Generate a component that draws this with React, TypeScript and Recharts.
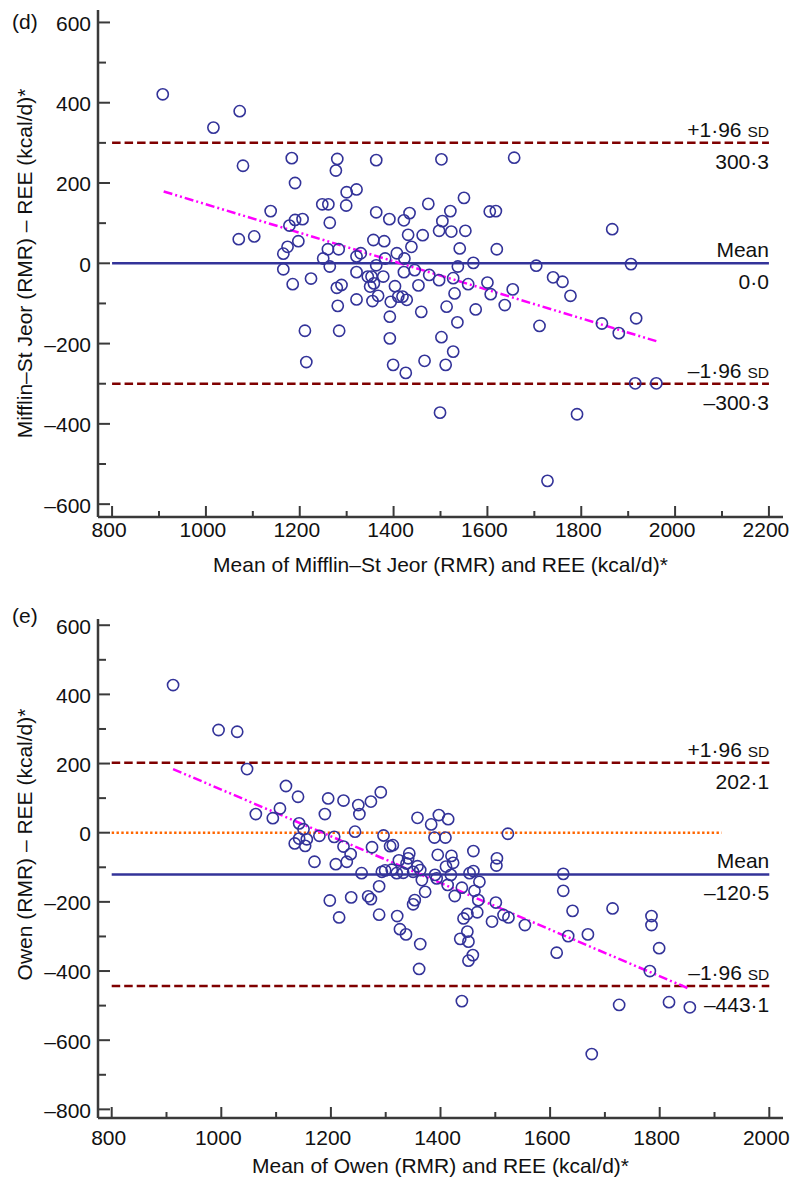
import React from "react";
import { ScatterChart, Scatter, XAxis, YAxis, ReferenceLine } from "recharts";

const FONT = '"Liberation Sans", Arial, Helvetica, sans-serif';
const FS = 21;
const AXIS = "#3a3a3a";
const INK = "#111";
const NAVY = "#333399";
const DARKRED = "#7f0000";
const MAGENTA = "#ff00ff";
const ORANGE = "#ff6600";

// (d) Mifflin–St Jeor vs REE
const mifflinMean = [
  908, 1016, 1072, 1079, 1183, 1190, 1138, 1070, 1103, 1178, 1190, 1206, 1197, 1174, 1165, 1165, 1185, 1224,
  1248, 1261, 1264, 1280, 1277, 1300, 1321, 1299, 1260, 1250, 1264, 1283, 1321, 1330, 1279, 1289, 1281, 1211,
  1284, 1214, 1321, 1321, 1363, 1363, 1391, 1422, 1434, 1357, 1380, 1407, 1423, 1431, 1438, 1382, 1363, 1345,
  1353, 1378, 1350, 1358, 1367, 1355, 1403, 1394, 1410, 1419, 1428, 1422, 1445, 1453, 1392, 1392, 1399, 1426,
  1459, 1466, 1502, 1657, 1550, 1474, 1521, 1605, 1618, 1504, 1497, 1523, 1553, 1462, 1541, 1620, 1570, 1537,
  1704, 1476, 1497, 1527, 1559, 1600, 1607, 1654, 1740, 1760, 1777, 1530, 1513, 1575, 1637, 1536, 1711, 1502,
  1527, 1511, 1844, 1880, 1917, 1499, 1791, 1915, 1960, 1728, 1866, 1906,
];
const mifflinDiff = [
  421, 338, 379, 243, 262, 200, 130, 60, 67, 94, 108, 110, 55, 41, 24, -15, -52, -38,
  147, 147, 101, 260, 231, 177, 184, 144, 35, 12, -8, 35, 17, 25, -61, -54, -106, -168,
  -168, -246, -90, -22, 257, 127, 110, 107, 125, 58, 55, 25, 12, 71, 41, 12, -5, -33,
  -33, -33, -58, -50, -81, -94, -57, -96, -83, -83, -91, -22, -17, -55, -133, -187, -253, -273,
  -121, -243, 259, 263, 163, 148, 130, 129, 130, 105, 81, 79, 81, 70, 37, 35, 1, -8,
  -6, -29, -42, -37, -52, -48, -77, -65, -35, -46, -81, -75, -108, -115, -104, -147, -156, -184,
  -220, -253, -150, -174, -137, -372, -376, -299, -299, -542, 85, -2,
];
const mifflinStats = [300.3, 0.0, -300.3];
const mifflinStatText = ["300·3", "0·0", "–300·3"];
const mifflinSpan = [800, 2200];
const mifflinTrend = [
  { x: 910, y: 179 },
  { x: 1960, y: -194 },
];

// (e) Owen vs REE
const owenMean = [
  912, 995, 1029, 1047, 1118, 1063, 1094, 1107, 1140, 1142, 1150, 1134, 1142, 1156, 1153, 1170, 1179, 1195,
  1189, 1223, 1206, 1223, 1209, 1229, 1236, 1244, 1250, 1252, 1273, 1291, 1275, 1256, 1296, 1308, 1313, 1288,
  1299, 1311, 1320, 1324, 1198, 1215, 1237, 1268, 1273, 1288, 1321, 1326, 1337, 1358, 1383, 1397, 1414, 1389,
  1409, 1523, 1343, 1341, 1338, 1293, 1332, 1350, 1358, 1363, 1366, 1395, 1420, 1423, 1410, 1390, 1393, 1419,
  1413, 1460, 1453, 1460, 1471, 1462, 1439, 1426, 1503, 1502, 1501, 1469, 1467, 1372, 1353, 1350, 1363, 1361,
  1442, 1449, 1436, 1449, 1451, 1459, 1451, 1439, 1494, 1515, 1524, 1554, 1624, 1624, 1641, 1633, 1612, 1669,
  1714, 1785, 1785, 1799, 1782, 1817, 1855, 1726, 1676,
];
const owenDiff = [
  427, 297, 292, 184, 135, 54, 42, 70, 104, 27, 10, -31, -17, -19, -38, -84, -9, 99,
  54, 93, -12, -40, -91, -84, -62, 3, 80, 54, 90, 117, -42, -117, -8, -39, -36, -155,
  -109, -107, -117, -80, -196, -245, -187, -184, -192, -237, -241, -279, -294, 43, 24, 51, 39, -14,
  -14, -3, -60, -74, -89, -113, -116, -113, -97, -108, -137, -64, -67, -87, -98, -122, -132, -122,
  -151, -53, -117, -111, -142, -168, -159, -183, -74, -95, -202, -195, -230, -171, -195, -207, -322, -394,
  -248, -235, -307, -286, -315, -354, -370, -487, -257, -238, -245, -267, -119, -168, -226, -299, -347, -294,
  -219, -241, -267, -334, -400, -490, -505, -498, -640,
];
const owenStats = [202.1, -120.5, -443.1];
const owenStatText = ["202·1", "–120·5", "–443·1"];
const owenSpan = [800, 2000];
const owenZeroSpan = [800, 1913];
const owenTrend = [
  { x: 912, y: 184 },
  { x: 1852, y: -450 },
];

const mifflinXTicks = [800, 900, 1000, 1100, 1200, 1300, 1400, 1500, 1600, 1700, 1800, 1900, 2000, 2100, 2200];
const mifflinYTicks = [-600, -500, -400, -300, -200, -100, 0, 100, 200, 300, 400, 500, 600];
const owenXTicks = [800, 900, 1000, 1100, 1200, 1300, 1400, 1500, 1600, 1700, 1800, 1900, 2000];
const owenYTicks = [-800, -700, -600, -500, -400, -300, -200, -100, 0, 100, 200, 300, 400, 500, 600];

const fmt = (v: number) => (v < 0 ? "–" + Math.abs(v) : String(v));

const ring = (p: any) => (
  <circle cx={p.cx} cy={p.cy} r={5.6} fill="none" stroke={NAVY} strokeWidth={1.6} />
);

const yTick = (p: any) => {
  const v = p.payload.value;
  const major = v % 200 === 0;
  return (
    <g>
      <line x1={p.x} y1={p.y} x2={p.x + (major ? 12 : 8)} y2={p.y} stroke={AXIS} strokeWidth={2} />
      {major && (
        <text x={p.x - 7} y={p.y} dy="0.4em" textAnchor="end" fontSize={FS} fontFamily={FONT} fill={INK}>
          {fmt(v)}
        </text>
      )}
    </g>
  );
};

const xTick = (gap: number) => (p: any) => {
  const v = p.payload.value;
  const major = v % 200 === 0;
  return (
    <g>
      <line x1={p.x} y1={p.y} x2={p.x} y2={p.y - (major ? 11 : 6)} stroke={AXIS} strokeWidth={2} />
      {major && (
        <text x={p.x - 3} y={p.y + gap} textAnchor="middle" fontSize={FS} fontFamily={FONT} fill={INK}>
          {fmt(v)}
        </text>
      )}
    </g>
  );
};

const limitLabel = (above: React.ReactNode, below: string) => (p: any) => {
  const vb = p.viewBox;
  const right = vb.x + vb.width;
  return (
    <g fontFamily={FONT} fontSize={FS} fill={INK}>
      <text x={right} y={vb.y - 6} textAnchor="end">
        {above}
      </text>
      <text x={right} y={vb.y + 26} textAnchor="end">
        {below}
      </text>
    </g>
  );
};

const sdText = (sign: string) => (
  <>
    {sign + "1·96 "}
    <tspan fontSize={15.5}>SD</tspan>
  </>
);

function Panel(props: any) {
  const {
    letter, xTitle, yTitle, xs, ys, xDomain, yDomain, xTicks, yTicks, span, stats, statText,
    trend, zeroSpan, marginTop, xAxisHeight, tickGap, letterY, yTitleShift,
  } = props;
  const data = xs.map((x: number, i: number) => ({ x, y: ys[i] }));
  const [upper, mean, lower] = stats;

  return (
    <ScatterChart width={790} height={591} margin={{ top: marginTop, right: 7, bottom: 4, left: 0 }}>
      <XAxis
        type="number"
        dataKey="x"
        domain={xDomain}
        ticks={xTicks}
        interval={0}
        tickSize={0}
        tickMargin={0}
        tickLine={false}
        tick={xTick(tickGap)}
        height={xAxisHeight}
        axisLine={{ stroke: AXIS, strokeWidth: 2.5 }}
        label={(p: any) => (
          <text
            x={p.viewBox.x + p.viewBox.width / 2}
            y={p.viewBox.y + 55}
            textAnchor="middle"
            fontSize={FS}
            fontFamily={FONT}
            fill={INK}
          >
            {xTitle}
          </text>
        )}
      />
      <YAxis
        type="number"
        dataKey="y"
        domain={yDomain}
        ticks={yTicks}
        interval={0}
        width={98}
        tickSize={0}
        tickMargin={0}
        tickLine={false}
        tick={yTick}
        axisLine={{ stroke: AXIS, strokeWidth: 2.5 }}
        label={(p: any) => {
          const cy = p.viewBox.y + p.viewBox.height / 2 + yTitleShift;
          return (
            <g fontFamily={FONT} fontSize={FS} fill={INK}>
              <text x={12} y={letterY}>
                {letter}
              </text>
              <text x={24} y={cy} dy="0.36em" textAnchor="middle" transform={`rotate(-90, 24, ${cy})`}>
                {yTitle}
              </text>
            </g>
          );
        }}
      />
      {zeroSpan && (
        <ReferenceLine
          segment={[
            { x: zeroSpan[0], y: 0 },
            { x: zeroSpan[1], y: 0 },
          ]}
          stroke={ORANGE}
          strokeWidth={2.5}
          strokeDasharray="2.4 2.4"
        />
      )}
      <ReferenceLine
        segment={[
          { x: span[0], y: upper },
          { x: span[1], y: upper },
        ]}
        stroke={DARKRED}
        strokeWidth={2.5}
        strokeDasharray="8.5 4"
        label={limitLabel(sdText("+"), statText[0])}
      />
      <ReferenceLine
        segment={[
          { x: span[0], y: mean },
          { x: span[1], y: mean },
        ]}
        stroke={NAVY}
        strokeWidth={2.5}
        label={limitLabel("Mean", statText[1])}
      />
      <ReferenceLine
        segment={[
          { x: span[0], y: lower },
          { x: span[1], y: lower },
        ]}
        stroke={DARKRED}
        strokeWidth={2.5}
        strokeDasharray="8.5 4"
        label={limitLabel(sdText("–"), statText[2])}
      />
      <ReferenceLine
        segment={trend}
        stroke={MAGENTA}
        strokeWidth={2.5}
        strokeDasharray="9 3 2 3 2 3"
      />
      <Scatter data={data} shape={ring} isAnimationActive={false} />
    </ScatterChart>
  );
}

export default function App() {
  return (
    <div style={{ position: "absolute", left: 0, top: 0, width: 790, height: 1182, background: "#fff" }}>
      <Panel
        letter="(d)"
        letterY={29}
        xTitle="Mean of Mifflin–St Jeor (RMR) and REE (kcal/d)*"
        yTitle="Mifflin–St Jeor (RMR) – REE (kcal/d)*"
        xs={mifflinMean}
        ys={mifflinDiff}
        xDomain={[770, 2230]}
        yDomain={[-632, 631]}
        xTicks={mifflinXTicks}
        yTicks={mifflinYTicks}
        span={mifflinSpan}
        stats={mifflinStats}
        statText={mifflinStatText}
        trend={mifflinTrend}
        zeroSpan={null}
        marginTop={10}
        xAxisHeight={70}
        tickGap={20}
        yTitleShift={0}
      />
      <Panel
        letter="(e)"
        letterY={32}
        xTitle="Mean of Owen (RMR) and REE (kcal/d)*"
        yTitle="Owen (RMR) – REE (kcal/d)*"
        xs={owenMean}
        ys={owenDiff}
        xDomain={[775, 2025]}
        yDomain={[-825, 618]}
        xTicks={owenXTicks}
        yTicks={owenYTicks}
        span={owenSpan}
        stats={owenStats}
        statText={owenStatText}
        trend={owenTrend}
        zeroSpan={owenZeroSpan}
        marginTop={28}
        xAxisHeight={60}
        tickGap={27}
        yTitleShift={-24}
      />
    </div>
  );
}
